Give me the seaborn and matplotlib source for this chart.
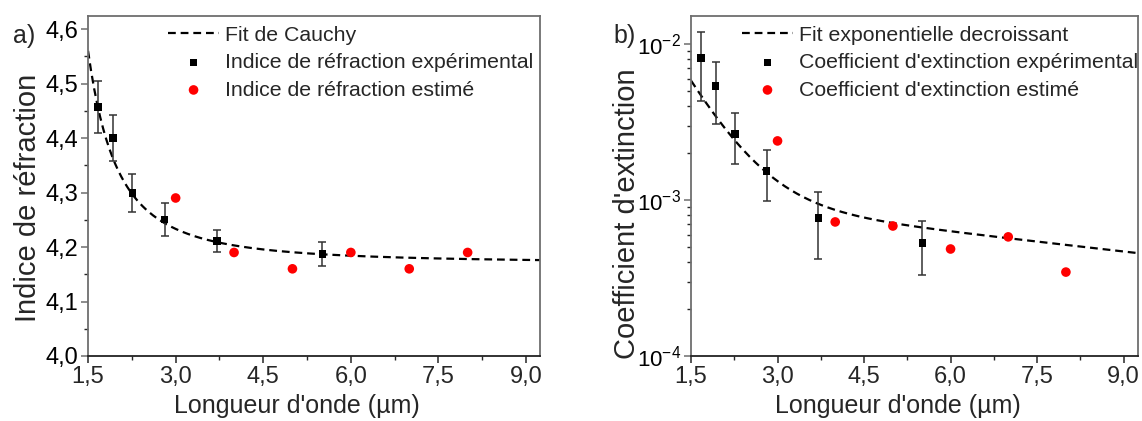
import matplotlib
matplotlib.use("Agg")
import matplotlib.pyplot as plt
import matplotlib.ticker as mticker
import numpy as np
import seaborn as sns

# experimental values (black squares, with error bars)
wl_exp = [1.67, 1.93, 2.26, 2.81, 3.71, 5.51]
n_exp = [4.457, 4.400, 4.299, 4.250, 4.211, 4.187]
n_err = [0.047, 0.043, 0.035, 0.030, 0.021, 0.022]
k_exp = [0.00813, 0.00538, 0.00265, 0.00153, 0.000767, 0.00053]
k_err = [0.0038, 0.0023, 0.00095, 0.00055, 0.00035, 0.0002]

# estimated values (red dots)
wl_est = [3.0, 4.0, 5.0, 6.0, 7.0, 8.0]
n_est = [4.29, 4.19, 4.16, 4.19, 4.16, 4.19]
k_est = [0.00239, 0.000723, 0.000681, 0.000485, 0.00058, 0.000345]

# fit parameters
cauchy_A, cauchy_B, cauchy_C = 4.1705, 0.461, 0.935
exp_y0, exp_A1, exp_t1, exp_A2, exp_t2 = 0.0, 0.0488, 0.65, 0.00112, 10.3

x_ticks = [1.5, 3.0, 4.5, 6.0, 7.5, 9.0]
n_ticks = [4.0, 4.1, 4.2, 4.3, 4.4, 4.5, 4.6]

sns.set_style("ticks")
plt.rcParams['font.family'] = ['Liberation Sans', 'DejaVu Sans']
plt.rcParams['mathtext.default'] = 'regular'

FRAME = '#6e6e6e'
comma = mticker.FuncFormatter(lambda v, p: f'{v:.1f}'.replace('.', ','))


def style_axes(ax):
    for side in ['left', 'top', 'right']:
        ax.spines[side].set_color(FRAME)
        ax.spines[side].set_linewidth(1.3)
    ax.spines['bottom'].set_color('#222222')
    ax.spines['bottom'].set_linewidth(1.3)
    ax.tick_params(which='major', direction='out', length=5, width=1.1,
                   labelsize=17, pad=2, top=False, right=False)
    ax.tick_params(which='minor', direction='out', length=3, width=1.0,
                   top=False, right=False)
    ax.tick_params(axis='y', colors=FRAME, labelcolor='black')
    ax.set_xlim(1.5, 9.25)
    ax.set_xticks(x_ticks)
    ax.xaxis.set_minor_locator(mticker.MultipleLocator(0.75))
    ax.xaxis.set_major_formatter(comma)
    ax.set_xlabel("Longueur d'onde (µm)", fontsize=18)
    ax.xaxis.set_label_coords(0.462, -0.112)


def add_legend(ax, x0):
    ax.legend(loc='upper left', bbox_to_anchor=(x0, 0.972), frameon=False,
              fontsize=15.3, borderpad=0, borderaxespad=0, handlelength=2.4,
              handletextpad=0.3, labelspacing=0.4)


fig = plt.figure(figsize=(11.42, 4.21), dpi=100)
ax1 = fig.add_axes([0.0771, 0.1544, 0.3958, 0.8076])
ax2 = fig.add_axes([0.6051, 0.1544, 0.3914, 0.8076])

# a) refractive index
wl_fit = np.linspace(1.5, 9.25, 300)
n_fit = cauchy_A + cauchy_B / wl_fit**2 + cauchy_C / wl_fit**4
sns.lineplot(x=wl_fit, y=n_fit, ax=ax1, color='black', lw=1.6,
             dashes=False, label='Fit de Cauchy')
ax1.lines[-1].set_dashes((3.5, 2.2))
ax1.errorbar(wl_exp, n_exp, yerr=n_err, fmt='none', ecolor='#333333',
             elinewidth=1.1, capsize=3, capthick=1.1, zorder=2)
sns.scatterplot(x=wl_exp, y=n_exp, ax=ax1, marker='s', color='black', s=28,
                edgecolor='none', zorder=3,
                label='Indice de réfraction expérimental')
sns.scatterplot(x=wl_est, y=n_est, ax=ax1, marker='o', color='#ff0000', s=48,
                edgecolor='none', zorder=3,
                label='Indice de réfraction estimé')
style_axes(ax1)
ax1.set_xlim(1.5, 9.24)
ax1.set_ylim(4.0, 4.624)
ax1.set_yticks(n_ticks)
ax1.yaxis.set_minor_locator(mticker.MultipleLocator(0.05))
ax1.yaxis.set_major_formatter(comma)
ax1.set_ylabel('Indice de réfraction', fontsize=21)
ax1.yaxis.set_label_coords(-0.102, 0.465)
add_legend(ax1, 0.177)

# b) extinction coefficient
k_fit = exp_y0 + exp_A1 * np.exp(-wl_fit / exp_t1) + exp_A2 * np.exp(-wl_fit / exp_t2)
sns.lineplot(x=wl_fit, y=k_fit, ax=ax2, color='black', lw=1.6,
             dashes=False, label='Fit exponentielle decroissant')
ax2.lines[-1].set_dashes((3.5, 2.2))
ax2.errorbar(wl_exp, k_exp, yerr=k_err, fmt='none', ecolor='#333333',
             elinewidth=1.1, capsize=3, capthick=1.1, zorder=2)
sns.scatterplot(x=wl_exp, y=k_exp, ax=ax2, marker='s', color='black', s=28,
                edgecolor='none', zorder=3,
                label="Coefficient d'extinction expérimental")
sns.scatterplot(x=wl_est, y=k_est, ax=ax2, marker='o', color='#ff0000', s=48,
                edgecolor='none', zorder=3,
                label="Coefficient d'extinction estimé")
ax2.set_yscale('log')
style_axes(ax2)
ax2.set_ylim(1e-4, 1.51e-2)
ax2.set_yticks([1e-4, 1e-3, 1e-2])
ax2.yaxis.set_minor_locator(mticker.LogLocator(base=10, subs=np.arange(2, 10)))
ax2.yaxis.set_minor_formatter(mticker.NullFormatter())
ax2.tick_params(axis='y', which='major', labelsize=16)
ax2.set_ylabel("Coefficient d'extinction", fontsize=21)
ax2.yaxis.set_label_coords(-0.112, 0.418)
add_legend(ax2, 0.114)

fig.text(0.011, 0.915, 'a)', fontsize=18, va='center')
fig.text(0.537, 0.915, 'b)', fontsize=18, va='center')

fig.savefig('out.png', dpi=100)
